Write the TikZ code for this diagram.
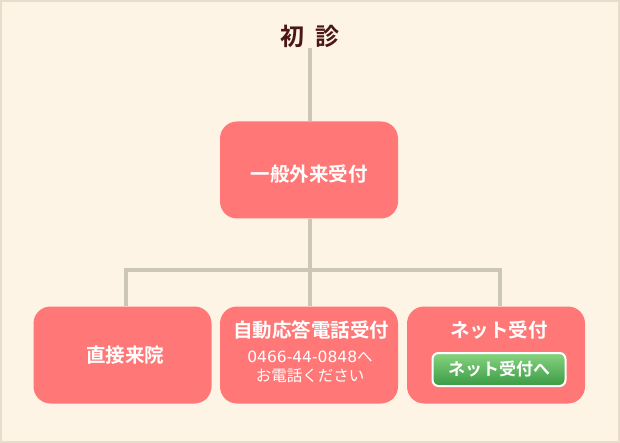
\documentclass[tikz,border=0pt]{standalone}
\usepackage{fontspec}
\setmainfont{Noto Sans CJK JP}[BoldFont={Noto Sans CJK JP Bold}]
\newfontfamily\digitfont{DejaVu Sans}
\usetikzlibrary{positioning}
\definecolor{paper}{RGB}{254,244,229}
\definecolor{paperedge}{RGB}{232,221,204}
\definecolor{boxred}{RGB}{255,119,119}
\definecolor{linegray}{RGB}{204,198,185}
\definecolor{titlebrown}{RGB}{74,22,22}
\definecolor{btntop}{RGB}{136,212,128}
\definecolor{btnbot}{RGB}{58,154,68}

\begin{document}
\begin{tikzpicture}[x=1pt,y=-1pt,
    stepbox/.style={rounded corners=17pt, fill=boxred, minimum width=178pt, minimum height=97pt, inner sep=0pt},
    head/.style={text=white, font=\fontsize{19.5}{23}\selectfont\bfseries, inner sep=1pt},
    sub/.style={text=white, font=\fontsize{15.5}{19}\selectfont, align=center, inner sep=1pt},
    netbtn/.style={rounded corners=6pt, draw=white, line width=2pt, top color=btntop, bottom color=btnbot, minimum width=133pt, minimum height=33pt, inner sep=0pt, text=white, font=\fontsize{17}{20}\selectfont\bfseries},
    link/.style={draw=linegray, line width=4.5pt},
]
    % paper
    \draw[fill=paper, draw=paperedge, line width=2pt] (1,1) rectangle (619,442);
    \useasboundingbox (0,0) rectangle (620,443);

    \node[text=titlebrown, font=\fontsize{24}{28}\selectfont\bfseries, inner sep=1pt] (title) at (310,36) {初\hspace{0.45em}診};

    \node[stepbox] (general) at (309,170) {};
    \node[head] (generalhead) at (309,174) {一般外来受付};

    \node[stepbox] (direct) at (122.5,355) {};
    \node[head] (directhead) at (125,355) {直接来院};

    \node[stepbox] (phone) at (309,355) {};
    \node[head] (phonehead) at (311,330) {自動応答電話受付};
    \node[sub] (phonesub) at (310,367) {{\digitfont 0466-44-0848}へ\\お電話ください};

    \node[stepbox] (net) at (496,355) {};
    \node[head] (nethead) at (499,330) {ネット受付};
    \node[netbtn] (netbutton) at (499,369.5) {ネット受付へ};

    % connectors
    \coordinate (jl) at (126,270);
    \coordinate (jm) at (310,270);
    \coordinate (jr) at (500,270);
    \draw[link] (title.south -| jm) -- (general.north -| jm);
    \draw[link] (general.south -| jm) -- (jm);
    \draw[link] (direct.north -| jl) -- (jl) -- (jr) -- (net.north -| jr);
    \draw[link] (jm) -- (phone.north -| jm);
\end{tikzpicture}
\end{document}
